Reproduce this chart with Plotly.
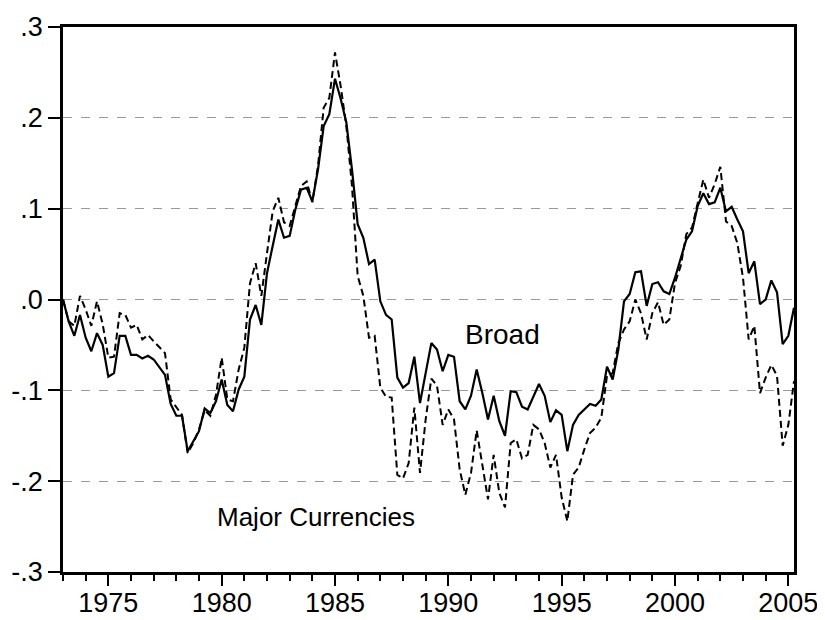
import plotly.graph_objects as go

start_year = 1973
quarters_per_year = 4

broad = [
    0.000, -0.024, -0.040, -0.017, -0.042, -0.057, -0.037, -0.050,
    -0.085, -0.081, -0.040, -0.040, -0.061, -0.061, -0.065, -0.062,
    -0.066, -0.074, -0.083, -0.115, -0.128, -0.128, -0.167, -0.156,
    -0.145, -0.120, -0.125, -0.112, -0.088, -0.116, -0.123, -0.099,
    -0.085, -0.022, -0.006, -0.028, 0.029, 0.059, 0.088, 0.068,
    0.070, 0.099, 0.121, 0.123, 0.108, 0.143, 0.191, 0.204,
    0.243, 0.221, 0.195, 0.143, 0.083, 0.068, 0.039, 0.044,
    -0.002, -0.017, -0.022, -0.086, -0.097, -0.092, -0.063, -0.114,
    -0.081, -0.048, -0.055, -0.079, -0.061, -0.063, -0.112, -0.121,
    -0.106, -0.077, -0.103, -0.132, -0.106, -0.134, -0.150, -0.101,
    -0.102, -0.118, -0.121, -0.107, -0.093, -0.106, -0.135, -0.122,
    -0.127, -0.167, -0.138, -0.127, -0.121, -0.115, -0.117, -0.110,
    -0.074, -0.088, -0.055, -0.002, 0.006, 0.030, 0.031, -0.007,
    0.017, 0.019, 0.009, 0.006, 0.024, 0.044, 0.066, 0.075,
    0.103, 0.117, 0.105, 0.107, 0.123, 0.097, 0.102, 0.088,
    0.075, 0.029, 0.042, -0.005, 0.000, 0.021, 0.008, -0.049,
    -0.040, -0.009,
]

major = [
    0.000, -0.024, -0.029, 0.004, -0.011, -0.029, -0.002, -0.027,
    -0.064, -0.063, -0.015, -0.017, -0.031, -0.028, -0.044, -0.039,
    -0.046, -0.053, -0.059, -0.110, -0.118, -0.127, -0.169, -0.158,
    -0.143, -0.122, -0.128, -0.105, -0.064, -0.110, -0.112, -0.077,
    -0.053, 0.018, 0.040, 0.004, 0.051, 0.097, 0.112, 0.085,
    0.081, 0.103, 0.125, 0.130, 0.107, 0.147, 0.211, 0.222,
    0.272, 0.235, 0.191, 0.125, 0.026, 0.004, -0.042, -0.040,
    -0.097, -0.107, -0.108, -0.193, -0.197, -0.180, -0.119, -0.191,
    -0.132, -0.087, -0.095, -0.138, -0.121, -0.132, -0.187, -0.215,
    -0.191, -0.144, -0.180, -0.220, -0.171, -0.213, -0.229, -0.158,
    -0.154, -0.175, -0.171, -0.138, -0.143, -0.158, -0.185, -0.171,
    -0.218, -0.244, -0.193, -0.185, -0.165, -0.147, -0.141, -0.130,
    -0.084, -0.081, -0.048, -0.033, -0.024, 0.000, -0.015, -0.044,
    -0.015, -0.003, -0.028, -0.022, 0.018, 0.037, 0.072, 0.079,
    0.106, 0.132, 0.112, 0.127, 0.146, 0.086, 0.081, 0.062,
    0.024, -0.044, -0.029, -0.103, -0.086, -0.072, -0.084, -0.161,
    -0.138, -0.090,
]

x_tick_vals = [1975, 1980, 1985, 1990, 1995, 2000, 2005]
x_tick_text = ["1975", "1980", "1985", "1990", "1995", "2000", "2005"]
y_tick_vals = [0.3, 0.2, 0.1, 0.0, -0.1, -0.2, -0.3]
y_tick_text = [".3", ".2", ".1", ".0", "-.1", "-.2", "-.3"]

label_broad = "Broad"
label_major = "Major Currencies"

t = [start_year + i / quarters_per_year for i in range(len(broad))]

fig = go.Figure()
fig.add_trace(go.Scatter(x=t, y=major, mode="lines", name=label_major,
                         line=dict(color="black", width=2, dash="7px,4px")))
fig.add_trace(go.Scatter(x=t, y=broad, mode="lines", name=label_broad,
                         line=dict(color="black", width=2.2)))

font_family = "Liberation Sans, Arial, sans-serif"

fig.add_annotation(x=1992.41, y=-0.039, text=label_broad, showarrow=False,
                   font=dict(family=font_family, size=28, color="black"))
fig.add_annotation(x=1984.18, y=-0.2395, text=label_major, showarrow=False,
                   font=dict(family=font_family, size=26, color="black"))

# page body has an 8px margin; size the figure so the plot area lands where the reference's does
fig.update_layout(
    width=817, height=612,
    margin=dict(l=55, r=31, t=19, b=48),
    paper_bgcolor="white", plot_bgcolor="white",
    showlegend=False,
    font=dict(family=font_family, size=27, color="black"),
)
fig.update_xaxes(
    range=[1973, 2005.25], automargin=False,
    tickvals=x_tick_vals, ticktext=x_tick_text,
    ticks="outside", ticklen=11, tickwidth=1.5, tickcolor="black",
    ticklabelstandoff=-6,
    minor=dict(ticks="outside", ticklen=6, tickwidth=1.5, tickcolor="black", dtick=1, tick0=1973),
    showgrid=False, zeroline=False,
    showline=True, linecolor="black", linewidth=2.5, mirror=True,
    tickfont=dict(size=27),
)
fig.update_yaxes(
    range=[-0.3, 0.3], automargin=False,
    tickvals=y_tick_vals, ticktext=y_tick_text,
    ticks="outside", ticklen=12, tickwidth=1.5, tickcolor="black",
    showgrid=True, gridcolor="#999999", gridwidth=1, griddash="dash",
    zeroline=False,
    showline=True, linecolor="black", linewidth=2.5, mirror=True,
    tickfont=dict(size=27),
)

fig.write_html("out.html")
